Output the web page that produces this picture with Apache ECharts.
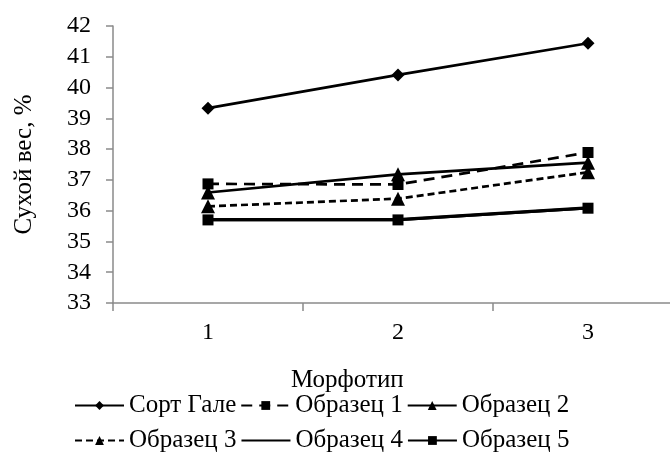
<!DOCTYPE html>
<html>
<head>
<meta charset="utf-8">
<script src="https://cdn.jsdelivr.net/npm/echarts@6/dist/echarts.min.js"></script>
<style>
html,body{margin:0;padding:0;background:#fff;}
#chart{width:670px;height:454px;}
</style>
</head>
<body>
<div id="chart"></div>
<script>
const categories = ['1', '2', '3'];
const seriesNames = ['Сорт Гале', 'Образец 1', 'Образец 2', 'Образец 3', 'Образец 4', 'Образец 5'];
const sortGale = [39.33, 40.41, 41.44];
const obrazets1 = [36.87, 36.85, 37.89];
const obrazets2 = [36.59, 37.18, 37.56];
const obrazets3 = [36.14, 36.39, 37.25];
const obrazets4 = [35.71, 35.71, 36.09];
const obrazets5 = [35.70, 35.70, 36.08];
const yTicks = {min: 33, max: 42, interval: 1};
const xAxisTitle = 'Морфотип';
const yAxisTitle = 'Сухой вес, %';

const FONT = '"Liberation Serif", "Times New Roman", serif';
const values = [sortGale, obrazets1, obrazets2, obrazets3, obrazets4, obrazets5];
const styles = [
  {symbol: 'diamond', symbolSize: 13, type: 'solid', width: 2.7},
  {symbol: 'rect', symbolSize: 11, type: [11, 7], width: 2.7},
  {symbol: 'triangle', symbolSize: 14, type: 'solid', width: 2.7},
  {symbol: 'triangle', symbolSize: 14, type: [7, 4], width: 2.7},
  {symbol: 'none', symbolSize: 0, type: 'solid', width: 3.2},
  {symbol: 'rect', symbolSize: 11, type: 'solid', width: 2.7}
];

const chart = echarts.init(document.getElementById('chart'), null, {renderer: 'canvas'});
const legendCommon = {
  left: 74,
  orient: 'horizontal',
  padding: 0,
  itemWidth: 49,
  itemHeight: 11,
  itemGap: 4,
  textStyle: {fontFamily: FONT, fontSize: 25, color: '#000'},
  selectedMode: false
};
const legendData = seriesNames.map((n, i) =>
  styles[i].symbol === 'none' ? {name: n, itemStyle: {color: 'rgba(0,0,0,0)', borderWidth: 0}} : {name: n});
chart.setOption({
  animation: false,
  backgroundColor: '#fff',
  grid: {left: 113, top: 26, height: 277, width: 570, containLabel: false, outerBoundsMode: 'none'},
  legend: [
    Object.assign({}, legendCommon, {top: 393, data: legendData.slice(0, 3)}),
    Object.assign({}, legendCommon, {top: 428, data: legendData.slice(3, 6)})
  ],
  graphic: [{
    type: 'text', left: 291, top: 368,
    style: {text: xAxisTitle, font: '25px ' + FONT, fill: '#000'}
  }],
  xAxis: {
    type: 'category',
    data: categories,
    boundaryGap: true,
    axisLine: {lineStyle: {color: '#8a8a8a', width: 1.5}},
    axisTick: {show: true, length: 8, inside: false, lineStyle: {color: '#8a8a8a', width: 1.5}},
    axisLabel: {fontFamily: FONT, fontSize: 24, color: '#000', margin: 18},
    splitLine: {show: false}
  },
  yAxis: {
    type: 'value',
    min: yTicks.min, max: yTicks.max, interval: yTicks.interval,
    name: yAxisTitle,
    nameLocation: 'middle',
    nameRotate: 90,
    nameGap: 76,
    nameTextStyle: {fontFamily: FONT, fontSize: 25, color: '#000'},
    axisLine: {show: true, lineStyle: {color: '#8a8a8a', width: 1.5}},
    axisTick: {show: true, length: 7, inside: false, lineStyle: {color: '#8a8a8a', width: 1.5}},
    axisLabel: {fontFamily: FONT, fontSize: 24, color: '#000', margin: 22},
    splitLine: {show: false}
  },
  series: seriesNames.map((name, i) => ({
    name: name,
    type: 'line',
    data: values[i],
    symbol: styles[i].symbol,
    symbolSize: styles[i].symbolSize,
    showSymbol: styles[i].symbol !== 'none',
    itemStyle: {color: '#000'},
    lineStyle: {color: '#000', width: styles[i].width, type: styles[i].type},
    z: 10 - i
  }))
});
</script>
</body>
</html>
